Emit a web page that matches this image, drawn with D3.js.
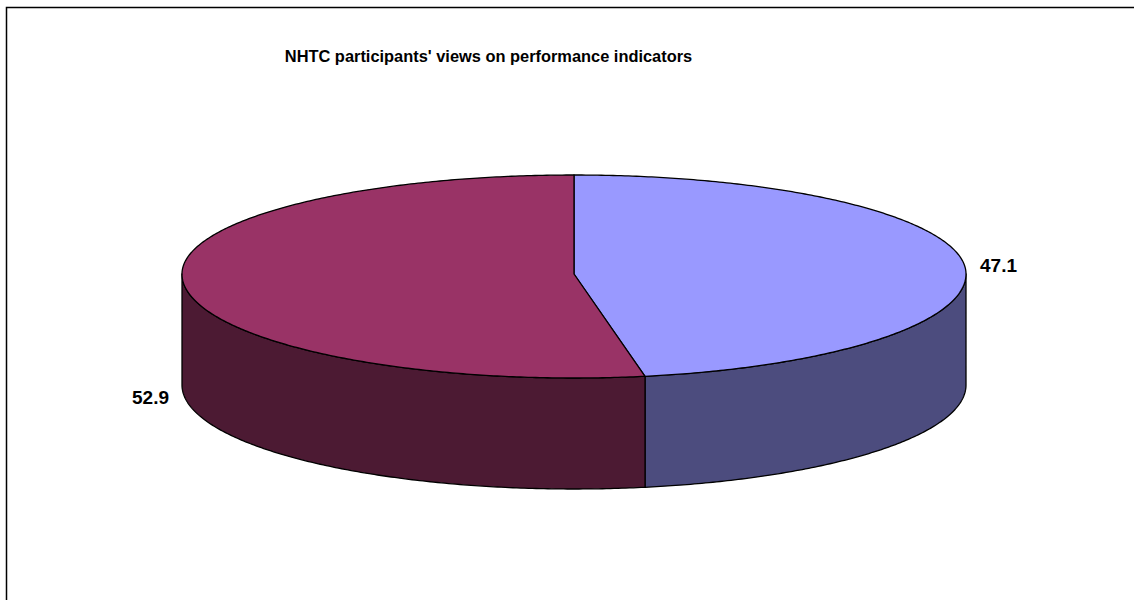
<!DOCTYPE html>
<html><head><meta charset="utf-8">
<script src="https://cdn.jsdelivr.net/npm/d3@7"></script>
<style>html,body{margin:0;padding:0;background:#fff;overflow:hidden}svg{display:block}</style>
</head><body>
<script>
const title = "NHTC participants' views on performance indicators";
const categories = ["Slice A", "Slice B"];
const values = [47.1, 52.9];
const topColors = ["#9999FF", "#993366"];
const sideColors = ["#4C4C7E", "#4C1A33"];

const W = 1134, H = 600;
const svg = d3.select("body").append("svg").attr("width", W).attr("height", H);
svg.append("path").attr("d", "M6.5,700 V7.5 H2000")
  .attr("fill", "none").attr("stroke", "#000").attr("stroke-width", 1.5);

svg.append("text").attr("x", 488.5).attr("y", 62).attr("text-anchor", "middle")
  .attr("font-family", "Liberation Sans, Arial, sans-serif").attr("font-weight", "bold")
  .attr("font-size", 16.4).text(title);

const cx = 574, cy = 274, rx = 392, ryB = 99, ryF = 104, depth = 111;
function proj(a, dy) {
  const c = Math.cos(a), s = Math.sin(a);
  return [cx + rx * s, cy - (c > 0 ? ryB : ryF) * c + (dy || 0)];
}
function arcPts(a0, a1, dy) {
  const n = Math.max(2, Math.ceil(Math.abs(a1 - a0) / 0.01));
  const pts = [];
  for (let i = 0; i <= n; i++) pts.push(proj(a0 + (a1 - a0) * i / n, dy));
  return pts;
}
const pie = d3.pie().sort(null).value(d => d)(values);
const line = d3.line();
const g = svg.append("g").attr("stroke", "#000").attr("stroke-width", 1.3).attr("stroke-linejoin", "round");

// side walls (front half only)
pie.forEach((p, i) => {
  const a0 = Math.max(p.startAngle, Math.PI / 2), a1 = Math.min(p.endAngle, 3 * Math.PI / 2);
  if (a1 <= a0) return;
  const pts = arcPts(a0, a1, 0).concat(arcPts(a1, a0, depth));
  g.append("path").attr("d", line(pts) + "Z").attr("fill", sideColors[i]);
});
// top faces
pie.forEach((p, i) => {
  const pts = [[cx, cy]].concat(arcPts(p.startAngle, p.endAngle, 0));
  g.append("path").attr("d", line(pts) + "Z").attr("fill", topColors[i]);
});

// labels
const lab = svg.append("g").attr("font-family", "Liberation Sans, Arial, sans-serif")
  .attr("font-weight", "bold").attr("font-size", 19).attr("fill", "#000");
lab.append("text").attr("x", 980).attr("y", 272).attr("text-anchor", "start").text(values[0].toFixed(1));
lab.append("text").attr("x", 169).attr("y", 404).attr("text-anchor", "end").text(values[1].toFixed(1));
</script>
</body></html>
